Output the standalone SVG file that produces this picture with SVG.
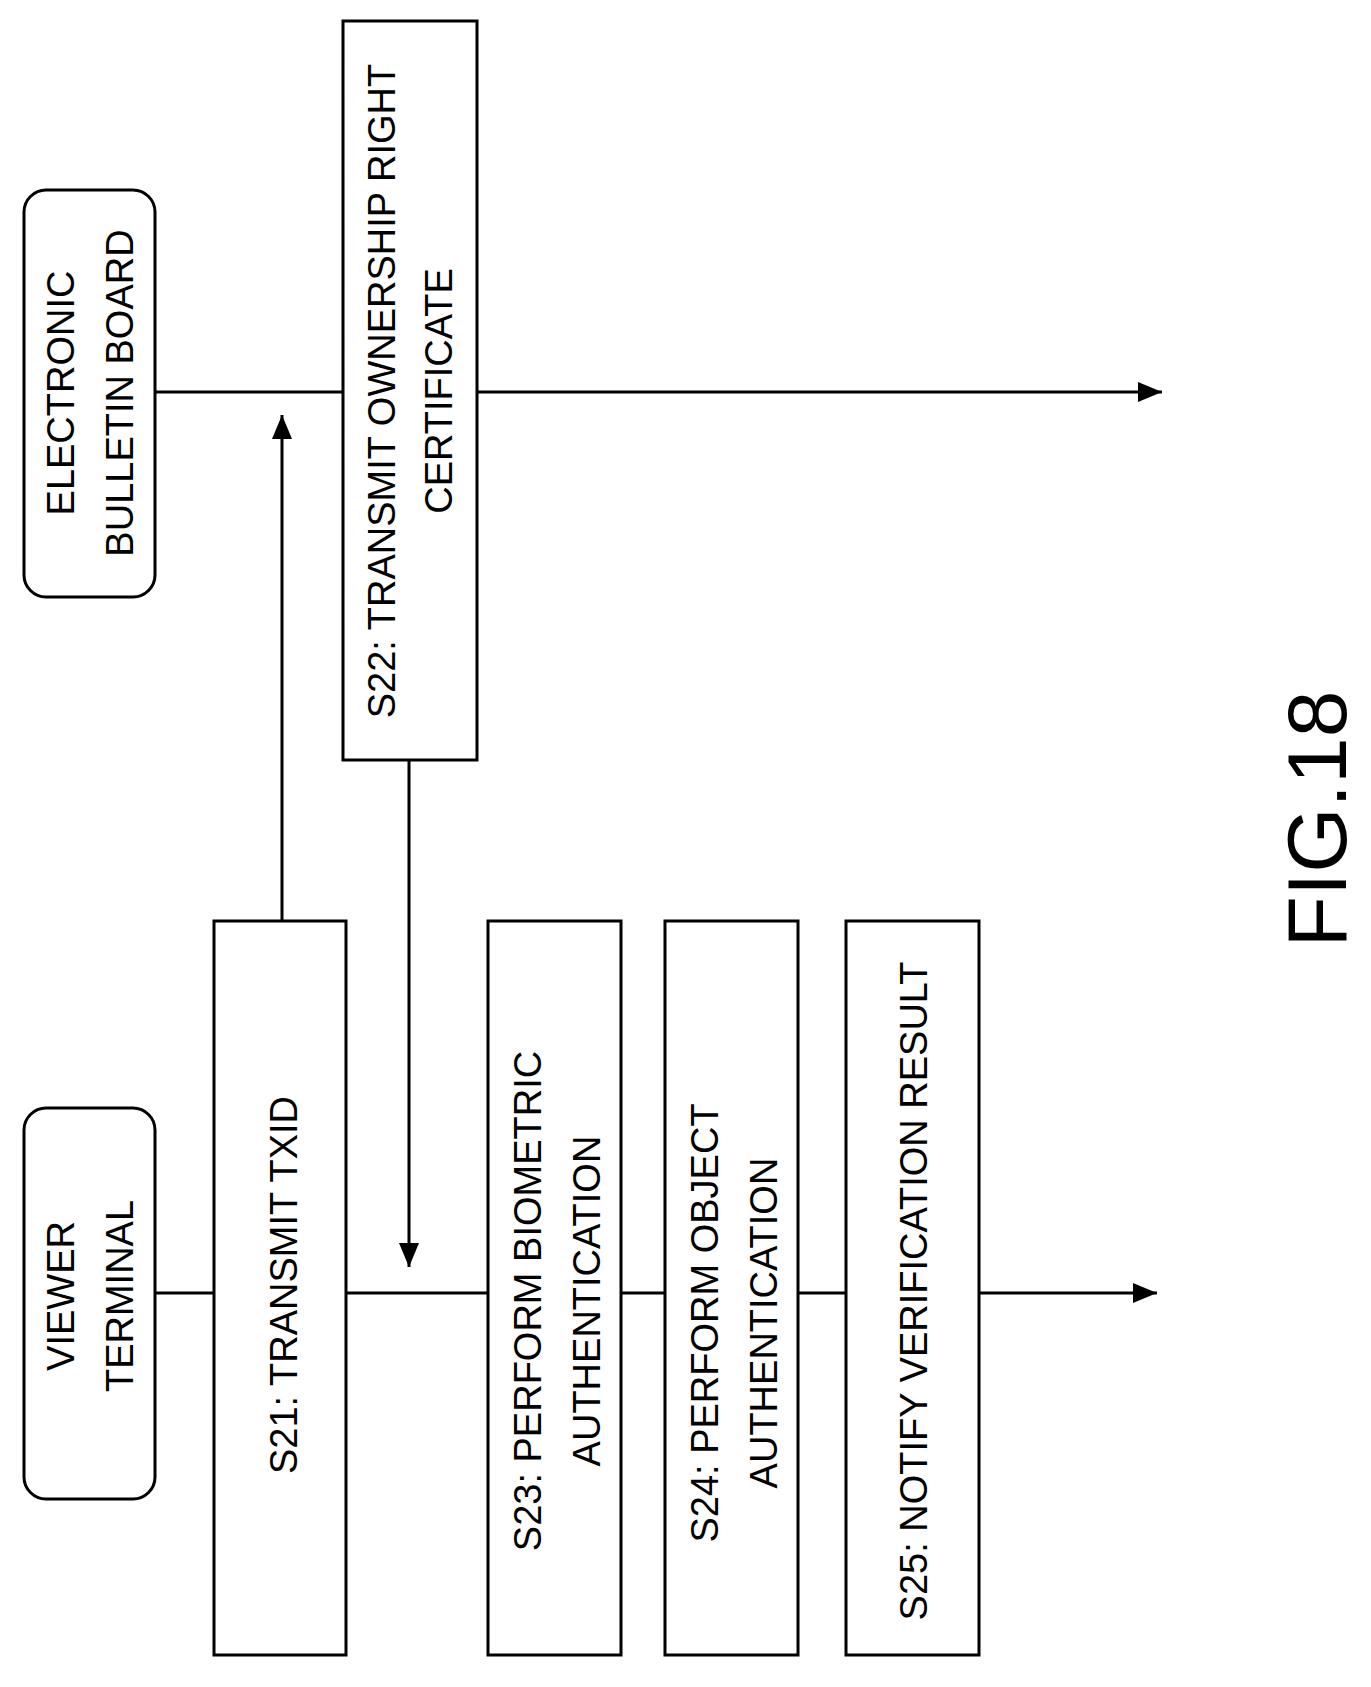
<svg xmlns="http://www.w3.org/2000/svg" width="1371" height="1687" viewBox="0 0 1371 1687">
<style>
.b{fill:#fff;stroke:#000;stroke-width:3}
.l{fill:none;stroke:#000;stroke-width:3}
text{font-family:"Liberation Sans",Arial,sans-serif;font-size:38px;text-anchor:middle;dominant-baseline:central}
</style>
<defs><marker id="ar" viewBox="0 0 24 20" refX="24" refY="10" markerWidth="24" markerHeight="20" markerUnits="userSpaceOnUse" orient="auto"><path d="M0,0L24,10L0,20z"/></marker></defs>
<rect width="1371" height="1687" fill="#fff"/>
<g id="connectors">
<path class="l" d="M155,392H1162" marker-end="url(#ar)"/>
<path class="l" d="M155,1293H1157" marker-end="url(#ar)"/>
<path class="l" d="M282,921V415" marker-end="url(#ar)"/>
<path class="l" d="M409,760V1267" marker-end="url(#ar)"/>
</g>
<g id="ebb"><rect class="b" x="24" y="190" width="131" height="407" rx="22"/>
<text transform="translate(61,393) rotate(-90)">ELECTRONIC</text><text transform="translate(120,393) rotate(-90)">BULLETIN BOARD</text></g>
<g id="viewer"><rect class="b" x="24" y="1108" width="131" height="391" rx="22"/>
<text transform="translate(61,1296) rotate(-90)">VIEWER</text><text transform="translate(120,1296) rotate(-90)">TERMINAL</text></g>
<g id="s22"><rect class="b" x="343" y="21" width="134" height="739"/>
<text transform="translate(382,391) rotate(-90)">S22: TRANSMIT OWNERSHIP RIGHT</text><text transform="translate(439,391) rotate(-90)">CERTIFICATE</text></g>
<g id="s21"><rect class="b" x="214" y="921" width="132" height="734"/>
<text transform="translate(284,1285) rotate(-90)">S21: TRANSMIT TXID</text></g>
<g id="s23"><rect class="b" x="488" y="921" width="133" height="734"/>
<text transform="translate(528,1301) rotate(-90)">S23: PERFORM BIOMETRIC</text><text transform="translate(587,1301) rotate(-90)">AUTHENTICATION</text></g>
<g id="s24"><rect class="b" x="665" y="921" width="133" height="734"/>
<text transform="translate(705,1323) rotate(-90)">S24: PERFORM OBJECT</text><text transform="translate(764,1323) rotate(-90)">AUTHENTICATION</text></g>
<g id="s25"><rect class="b" x="846" y="921" width="133" height="734"/>
<text transform="translate(914,1291) rotate(-90)">S25: NOTIFY VERIFICATION RESULT</text></g>
<text transform="translate(1317,819) rotate(-90)" style="font-size:84px">FIG.18</text>
</svg>
